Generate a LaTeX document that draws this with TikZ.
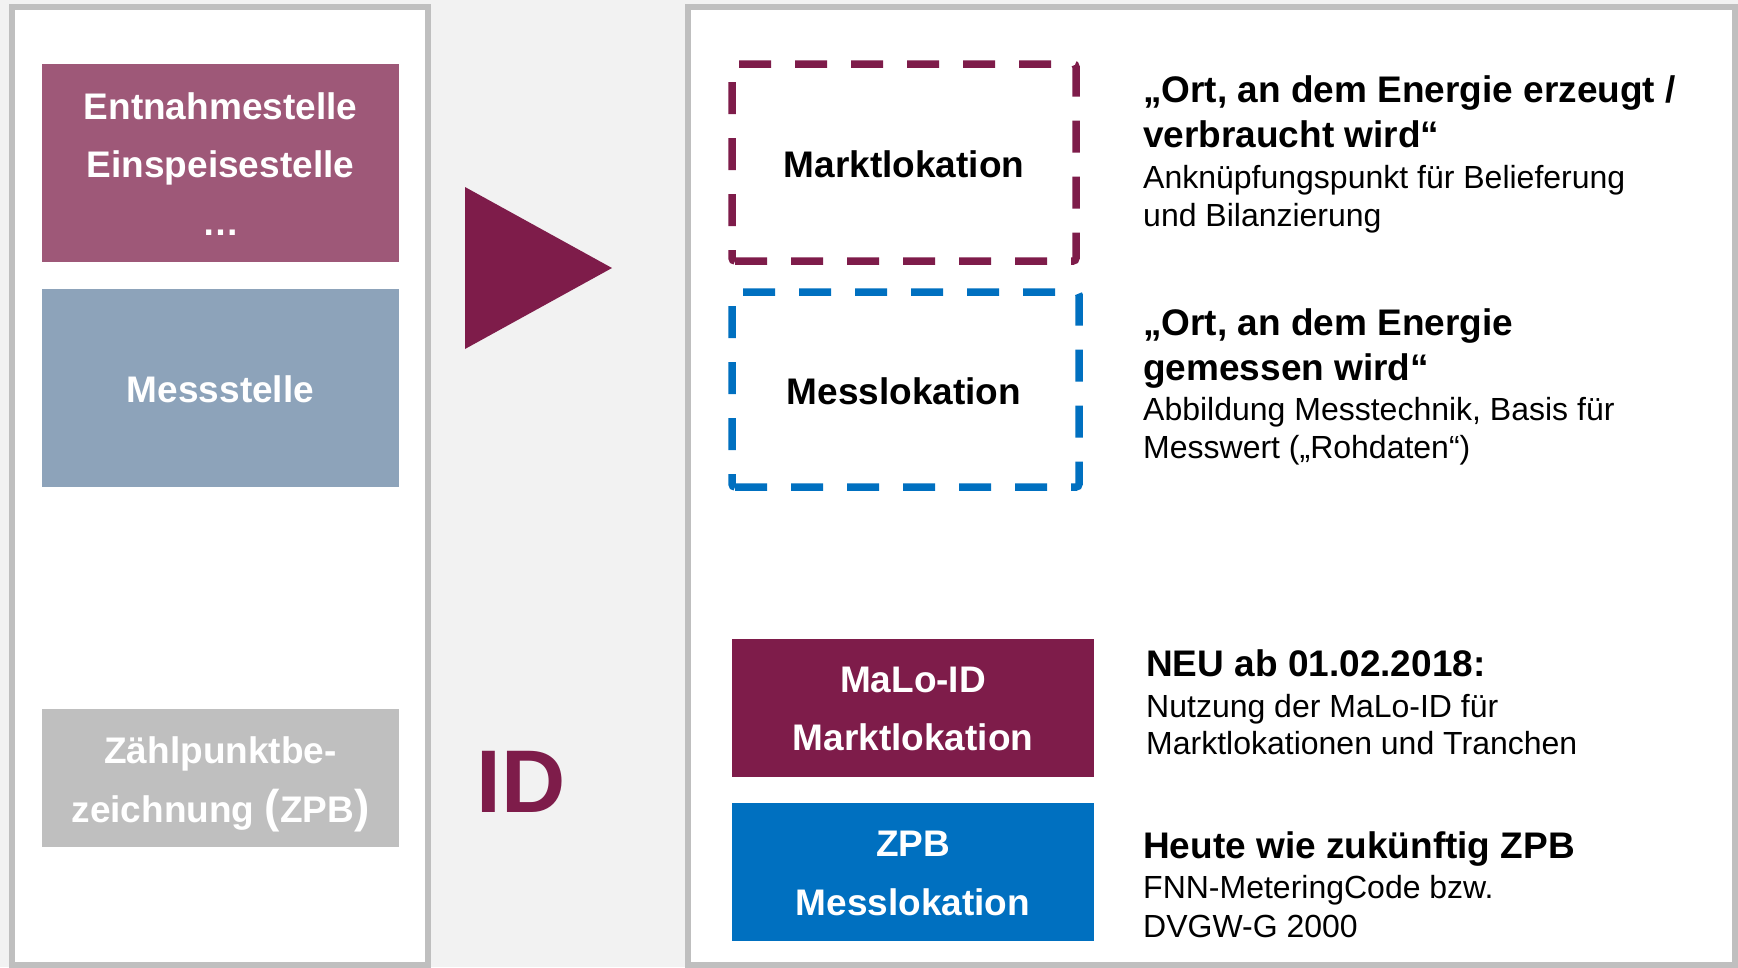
\documentclass[tikz,border=0pt]{standalone}
\usepackage{fontspec}
\setmainfont{Liberation Sans}

\definecolor{pagebg}{HTML}{F2F2F2}
\definecolor{frame}{HTML}{BFBFBF}
\definecolor{wine}{HTML}{7E1C4A}
\definecolor{mauve}{HTML}{9E5878}
\definecolor{steel}{HTML}{8DA3BA}
\definecolor{corpblue}{HTML}{0070C0}
\definecolor{ltgray}{HTML}{BFBFBF}

% taller parentheses used in the ZPB tile
\newcommand{\bigparen}[1]{{\fontsize{46}{50}\selectfont #1}}

\begin{document}
\begin{tikzpicture}[x=1pt,y=-1pt,
  panel/.style={fill=white,draw=frame,line width=6pt},
  tile/.style={inner sep=0pt,outer sep=0pt,draw=none},
  tiletext/.style={inner sep=0pt,anchor=base,text=white,font=\fontsize{37}{43}\selectfont\bfseries},
  dashlabel/.style={inner sep=0pt,anchor=base,text=black,font=\fontsize{37}{43}\selectfont\bfseries},
  headline/.style={inner sep=0pt,anchor=base west,text=black,font=\fontsize{37}{43}\selectfont\bfseries},
  plainline/.style={inner sep=0pt,anchor=base west,text=black,font=\fontsize{32}{37}\selectfont},
  dashbox/.style={line width=7.5pt,dash pattern=on 32pt off 24pt,rounded corners=3pt}
]
% page and the two panels
\fill[pagebg] (0,0) rectangle (1738,967);
\useasboundingbox (0,0) rectangle (1738,967);
\draw[panel] (12,7) rectangle (428,965);
\draw[panel] (688,7) rectangle (1735,965);

% left panel: previous terms
\node[tile,fill=mauve,minimum width=357pt,minimum height=198pt] (entn) at (220.5,163) {};
\node[tiletext] (entnA) at (220.5,119) {Entnahmestelle};
\node[tiletext] (entnB) at (220.5,177) {Einspeisestelle};
\node[tiletext] (entnC) at (220.5,235) {…};

\node[tile,fill=steel,minimum width=357pt,minimum height=198pt] (mst) at (220.5,388) {};
\node[tiletext] (mstA) at (220.5,402) {Messstelle};

\node[tile,fill=ltgray,minimum width=357pt,minimum height=138pt] (zpbold) at (220.5,778) {};
\node[tiletext] (zpboldA) at (220.5,763) {Zählpunktbe-};
\node[tiletext] (zpboldB) at (220.5,822) {zeichnung \bigparen{(}ZPB\bigparen{)}};

% middle: arrow head and ID label
\fill[wine] (465,187) -- (612,268) -- (465,349) -- cycle;
\node[inner sep=0pt,anchor=base,text=wine,font=\fontsize{89}{100}\selectfont\bfseries] (idlabel) at (521,812) {ID};

% right panel: location objects
\draw[wine,dashbox] (732,261) -- (1076,261) -- (1076,64) -- (732,64) -- cycle;
\node[dashlabel] (malo) at (904,177) {Marktlokation};
\draw[corpblue,dashbox] (732,487) -- (1079,487) -- (1079,292) -- (732,292) -- cycle;
\node[dashlabel] (melo) at (904,404) {Messlokation};

\node[headline] (maloA) at (1143,102) {„Ort, an dem Energie erzeugt /};
\node[headline] (maloB) at (1143,147) {verbraucht wird“};
\node[plainline] (maloC) at (1143,188) {Anknüpfungspunkt für Belieferung};
\node[plainline] (maloD) at (1143,226) {und Bilanzierung};

\node[headline] (meloA) at (1143,335) {„Ort, an dem Energie};
\node[headline] (meloB) at (1143,380) {gemessen wird“};
\node[plainline] (meloC) at (1143,420) {Abbildung Messtechnik, Basis für};
\node[plainline] (meloD) at (1143,458) {Messwert („Rohdaten“)};

% right panel: identifiers
\node[tile,fill=wine,minimum width=362pt,minimum height=138pt] (maloid) at (913,708) {};
\node[tiletext] (maloidA) at (913,692) {MaLo-ID};
\node[tiletext] (maloidB) at (913,750) {Marktlokation};

\node[tile,fill=corpblue,minimum width=362pt,minimum height=138pt] (zpb) at (913,872) {};
\node[tiletext] (zpbA) at (913,856) {ZPB};
\node[tiletext] (zpbB) at (913,915) {Messlokation};

\node[headline] (neuA) at (1146,676) {NEU ab 01.02.2018:};
\node[plainline] (neuB) at (1146,717) {Nutzung der MaLo-ID für};
\node[plainline] (neuC) at (1146,754) {Marktlokationen und Tranchen};

\node[headline] (heuteA) at (1143,858) {Heute wie zukünftig ZPB};
\node[plainline] (heuteB) at (1143,898) {FNN-MeteringCode bzw.};
\node[plainline] (heuteC) at (1143,937) {DVGW-G 2000};
\end{tikzpicture}
\end{document}
